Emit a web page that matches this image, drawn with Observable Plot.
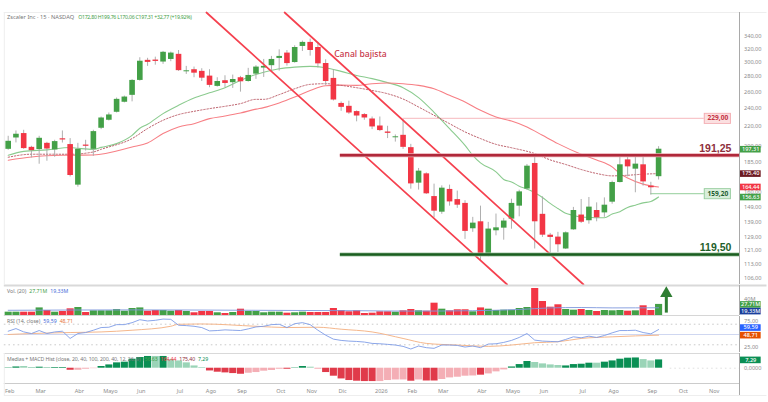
<!DOCTYPE html>
<html lang="es">
<head>
<meta charset="utf-8">
<script src="https://cdn.jsdelivr.net/npm/d3@7"></script>
<script src="https://cdn.jsdelivr.net/npm/@observablehq/plot@0.6"></script>
<style>
html,body{margin:0;padding:0;background:#fff}
#chart{position:relative;width:768px;height:402px;overflow:hidden;background:#fff;font-family:"Noto Sans",sans-serif}
#chart svg{position:absolute;left:0;background:transparent}
.leg{position:absolute;left:7px;font-size:5.2px;line-height:7px;color:#777;white-space:pre}
.leg span{margin-left:3px}
.leg.head{font-size:5.7px}
.leg.head span{font-size:5.2px;letter-spacing:-.25px;margin-left:4px}
.leg.macd{letter-spacing:-.08px}
</style>
</head>
<body>
<div id="chart"></div>
<script>
const open=[197.2,208.3,212.8,199.1,197,203,196.6,207.5,201.8,165.9,201.3,197.2,218.3,226.9,235.8,247.5,255.9,275,303,303.4,300.5,304.3,311.9,286.7,289.6,287.3,280.8,267.2,274.6,272,278.6,273.6,283.5,291.9,295.3,305.8,313.8,299.8,324,330.4,322.4,298.4,277.7,246.1,242.7,236.6,233.2,228.3,220.7,214.4,208.5,211,198.8,167.5,175.2,157,145.6,162.5,154.7,151.9,134.4,139,118.5,133.1,134.8,140.8,149.9,162.8,184.2,144.1,130.3,129.1,121.9,133.7,143.6,139.7,146.8,145.1,152.8,168,187.4,179.2,183,165.1,172.8];
const high=[210,215.5,216.2,200.1,210,204,206,215.5,207.7,203,206,216.2,230.5,235,252.6,255,276,306.8,306,307.7,316.3,315.3,317.7,294.3,293.3,291,289.6,278.6,281.3,282.2,280.4,291.5,295.3,304.3,308.8,318.7,317.7,325.1,332.5,335.7,330.4,303.8,289.6,247.9,248.8,237.4,234.3,230.5,230.5,220.4,211.4,227.5,202,179.8,176,166.7,165.3,165.9,161.2,153.9,142,149.9,138.6,144.3,141.3,155,161.9,183.3,191.6,156.8,131.4,132.1,132.4,149,154.8,156.3,152.3,156,169.1,191.6,190.7,190.7,191.4,168.2,199.76];
const low=[196.3,203.4,197.2,189.2,183.5,186.2,189.8,203.3,172.6,164.3,195.6,190.7,216.9,226.1,235,246.7,248,274,294.3,296,297.2,301,287.3,283.1,278.6,273.6,265.5,266.3,265.5,264.6,259.9,272.7,276.4,279,287.7,287.7,294.7,298.9,316.3,309.2,291.9,268.5,249,236.9,233.5,225.2,226.9,216.9,214.8,207.7,204.2,197.2,162.7,162,158.6,141.7,144.1,149.9,148.3,127.7,132.1,115,117.4,129.9,127.2,134.1,142.4,162,121.9,128.9,119.3,119.9,121.6,133.4,137.9,137.4,139,142,151.3,167.7,172.6,159.9,165.1,158.1,170.06];
const close=[205,212.1,197.9,196,208,197.5,204.7,206.3,173.8,197.2,200.1,214.8,229.4,232.8,251,253.8,275,301.7,300,301.4,315,313.8,288.3,288.1,284.8,278,268.5,273.6,271,276.2,273.2,281.7,293.3,294.3,304.3,308.8,298.3,322.4,330.4,317.7,297.9,273.6,250.2,241.5,235,231.6,229.4,219.7,215.9,213,209.5,199.1,166.9,177.5,159.1,146.3,163.5,153,150.6,132.7,138.1,117.8,134.2,135,139.5,151.9,160.6,181.8,139,130.3,128.9,124.4,131.8,146.8,138.7,149.2,141.7,150.6,168,183,181.2,183.6,168.5,163.8,197.31];

const maGreenX=[0,2,5,8,9,11,12,14,16,17,18,20,22,24,26,28,30,32,33,35,37,39,41,43,45,47,49,51,53,55,57,59,60,61,63,64,65,66,67,68,69,70,71,72,73,74,75,76,77,78,79,80,81,82,83,84];
const maGreenY=[191.6,195.3,196.7,198.9,198.2,197.2,199.1,202.7,211,218.3,222.6,234.3,243.9,252.6,259,265.5,275,283.1,286.2,291,293.3,294.3,292.4,287.3,281.7,277.4,272.1,265.5,253.1,235.8,218,201,191.6,184.7,176.9,170.5,168.5,165.1,162.8,159.9,156.3,151.9,148.2,144.8,143.4,142.2,142,141.7,141.7,144.3,145.9,149,150.6,152.3,153.3,156.63];
const maDotX=[0,3,8,11,12,16,18,20,22,24,26,28,30,32,33,35,37,39,41,43,45,47,49,51,53,55,57,59,61,63,65,68,70,72,74,76,78,80,82,84];
const maDotY=[189.8,192.6,192.6,194.7,197.2,207.7,218,226.9,233.2,236.9,240,242.7,245.9,251,251,256.8,264.2,269.8,270.7,268.5,265.5,262,257.9,251.4,241.9,232.4,223.2,214.5,207.7,202,198.7,193.2,187.4,183.3,178.9,175.5,173.5,174,174.9,175.4];
const maPinkX=[0,3,7,11,16,18,20,22,24,26,28,30,32,33,35,37,39,41,43,45,47,49,51,53,55,57,59,61,63,65,67,69,71,74,76,78,79,80,82,84];
const maPinkY=[187.1,190,191.6,191.9,199.4,203.3,212.8,219.7,223.2,228.7,231.6,235,239.4,241.2,246.7,253.8,262,268.1,268.9,268.5,270.7,271.6,270.7,268.5,264.2,255.9,247.9,238,230.5,226,219.7,211,202.7,192.6,187.4,181.2,175.4,171.8,166.7,164.44];

const channelUpperX=[35.7,74.3], channelUpperY=[381.7,102.7];
const channelLowerX=[25.6,64.44], channelLowerY=[381.7,102.7];
const priceTicks=[340,320,300,280,260,240,220,200,185,160,149,139,129,121,113,106];

const volume=[8.3,8.3,8.3,8.3,19,12.5,8.3,10,16.7,20,7.5,11.7,11.7,11.7,15,10.8,17.5,19,10.8,12.5,12.5,10.8,12.5,10,6.8,10,10,6.8,5,7.5,15.8,10,10,6.8,8.3,8.3,5.8,6.8,8.3,7.5,7.5,7.5,17.5,12.5,9.3,11.7,5,5.8,9.3,9.3,8.3,11.7,15,11.7,10.8,30.8,15.8,11.7,14.3,14.3,9.3,19,15.8,12.5,13.3,13.3,17.5,20,67.5,35,20.8,26.8,15,13.3,15,12.5,10,12.5,11.7,12.5,10.8,11.7,24.3,12.5,27.71];
const volMaX=[0,16,32,45,52,60,66,70,74,78,84];
const volMaY=[13,14,13,12,11,12,15,19,20,19,19.33];

const rsi=[56.4,61.5,55.1,51.9,57.7,51.9,55,56.4,42.3,51.9,53.8,58.3,63.5,64.1,69.2,69.2,73,78.8,76.3,77.6,80,79.5,68,67.3,66,63.5,57,57.7,59,58.3,57.7,60.9,64.7,66,69.2,69.9,63.5,71,73,69.2,58.3,48.7,41,38.5,37.2,36.5,35.3,32.7,32,30.8,29.5,26.9,21.8,27.6,24.4,23.1,29.5,29.5,28.8,25.6,27.6,24.4,31.4,32,34.6,38.5,44.2,51.9,39.1,37.2,36.5,35.9,40.4,45.5,43.6,46.8,44.2,48,53.2,57.7,57.7,58.3,53.8,51.3,59.59];
const rsiMaX=[0,3,8,12,16,21,22,25,32,36,40,43,47,51,54,58,62,65,68,71,74,78,84];
const rsiMaY=[50,51.9,53.8,55,58.3,66,69.9,70.5,66,63.5,64.1,60.3,55,42.3,32.7,29.5,26.9,29.5,34,35.9,42.3,45.5,48.71];

const macd=[.3,1.1,1.5,.3,.9,.3,.6,.6,-1.8,-1.8,-.9,-.4,1.5,2.9,4.7,5.3,7.9,9.4,10.3,10.3,10.3,7.6,6.4,4.7,2,.6,-2.4,-3.5,-4.1,-4.7,-5.3,-4.4,-3.8,-2.6,-2,-.9,-.9,.3,1.5,.9,-.9,-3.8,-7,-9.4,-10.8,-11.4,-11.7,-11.7,-11.7,-10.8,-10.3,-10.3,-11.4,-10.3,-11.2,-11.2,-9.9,-8.5,-7.9,-7,-6.8,-6.1,-5,-3.2,-1.5,1.1,3.2,5.9,5,3.8,2.9,2.4,2,3.2,3.5,4.4,4.4,5.3,6.4,7.9,8.8,9,7.6,6.4,7.29];
const macdStrong=[1,1,0,1,1,1,1,1,1,0,0,0,1,1,1,1,1,1,1,0,1,0,0,0,0,0,1,1,1,1,1,0,0,0,0,0,1,1,1,0,0,1,1,1,1,1,1,1,0,0,0,0,1,0,1,1,0,0,0,0,0,1,0,0,0,1,1,1,0,0,0,0,1,1,1,1,0,1,1,1,1,1,0,0,1];

const monthIdx=[0,4,9,13,17,22,26,30,35,39,43,48,52,56,61,65,69,74,78,83,87,91];
const monthTxt=["Feb","Mar","Abr","Mayo","Jun","Jul","Ago","Sep","Oct","Nov","Dic","2026","Feb","Mar","Abr","Mayo","Jun","Jul","Ago","Sep","Oct","Nov"];

const idx=d3.range(close.length);
const GREEN="#43a047",RED="#f23645",AXIS="#a9a9a9",TXT="#8c8c8c";
const LEFT=-0.994,RIGHT=94.45,TAG1=94.58,TAG2=97.25,TAGC=95.9;
const rows=(xs,ys)=>xs.map((x,i)=>({x,y:ys[i]}));
const comma=(d,n=2)=>d.toFixed(n).replace(".",",");
const base={width:768,marginLeft:0,marginRight:29,marginTop:0,marginBottom:0,
  x:{domain:[LEFT,RIGHT],axis:null},
  style:{fontFamily:'"Noto Sans",sans-serif',fontSize:"5.6px",background:"transparent",overflow:"visible"}};
const vline=()=>Plot.ruleX([RIGHT],{stroke:AXIS,strokeWidth:1});
const tag=(y,label,bg,fg="#fff")=>[
  Plot.ruleY([y],{x1:TAG1,x2:TAG2,stroke:bg,strokeWidth:6.6}),
  Plot.text([y],{x:TAGC,y:d=>d,text:()=>label,fill:fg,fontSize:5.6,fontWeight:500})
];
const box=(y,label,fill,border,color)=>[
  Plot.ruleY([y],{x1:89.9,x2:93.4,stroke:border,strokeWidth:11}),
  Plot.ruleY([y],{x1:90.02,x2:93.28,stroke:fill,strokeWidth:9.4}),
  Plot.text([y],{x:91.65,y:d=>d,text:()=>label,fill:color,fontSize:6.6,fontWeight:700})
];

const price=Plot.plot({...base,height:285,marginTop:12,marginBottom:1,
  y:{type:"log",domain:[102.7,381.7],axis:null},
  marks:[
    Plot.axisY(priceTicks,{anchor:"right",tickSize:0,tickPadding:4.5,tickFormat:d=>comma(d),fill:TXT,label:null}),
    Plot.ruleY([381.7],{x1:-0.5,x2:98,stroke:"#eee",strokeWidth:1}),
    Plot.ruleX([-0.5],{y1:102.7,y2:381.7,stroke:"#eee",strokeWidth:1}),
    vline(),
    Plot.ruleY([229],{x1:51,x2:89.9,stroke:"#f8c6ca",strokeWidth:1.3}),
    Plot.ruleY([159.2],{x1:83,x2:89.9,stroke:"#a9d8ae",strokeWidth:1.2}),
    Plot.line(rows(maGreenX,maGreenY),{x:"x",y:"y",stroke:"#8bcb8f",strokeWidth:1.1,curve:"monotone-x"}),
    Plot.line(rows(maPinkX,maPinkY),{x:"x",y:"y",stroke:"#f77f85",strokeWidth:1.1,curve:"monotone-x"}),
    Plot.line(rows(maDotX,maDotY),{x:"x",y:"y",stroke:"#b5505c",strokeWidth:.9,strokeDasharray:"1.4 1.8",curve:"monotone-x"}),
    Plot.ruleX(idx,{x:i=>i,y1:i=>low[i],y2:i=>high[i],stroke:"#a6a6a6",strokeWidth:.9}),
    Plot.ruleX(idx,{x:i=>i,y1:i=>open[i],y2:i=>close[i],stroke:i=>close[i]>=open[i]?GREEN:RED,strokeWidth:5.6}),
    Plot.line(rows(channelUpperX,channelUpperY),{x:"x",y:"y",stroke:"#f5414f",strokeWidth:1.7}),
    Plot.line(rows(channelLowerX,channelLowerY),{x:"x",y:"y",stroke:"#f5414f",strokeWidth:1.7}),
    Plot.ruleY([191.6],{x1:42.9,x2:RIGHT,stroke:"#e9aab1",strokeWidth:4}),
    Plot.ruleY([191.6],{x1:42.9,x2:RIGHT,stroke:"#b0283a",strokeWidth:2.6}),
    Plot.ruleY([118.7],{x1:42.9,x2:RIGHT,stroke:"#a5c8a7",strokeWidth:4}),
    Plot.ruleY([118.7],{x1:42.9,x2:RIGHT,stroke:"#1b5e20",strokeWidth:2.6}),
    Plot.text(["Canal bajista"],{x:42.1,y:312,text:d=>d,textAnchor:"start",fill:"#c8394c",fontSize:8.6,fontWeight:500}),
    Plot.text(["191,25"],{x:93.4,y:197.5,text:d=>d,textAnchor:"end",fill:"#8e2f3c",fontSize:10.5,fontWeight:700,fontFamily:"Liberation Sans"}),
    Plot.text(["119,50"],{x:93.4,y:122.6,text:d=>d,textAnchor:"end",fill:"#1f5f2b",fontSize:10.5,fontWeight:700,fontFamily:"Liberation Sans"}),
    ...box(229,"229,00","#fbdfe0","#f3a9ae","#c43243"),
    ...box(159.2,"159,20","#d9eedb","#95cc9d","#1d5c2f"),
    ...tag(197.31,"197,31",GREEN),
    ...tag(175.4,"175,40","#6d1a22"),
    ...tag(164.44,"164,44",RED),
    ...tag(156.63,"156,63",GREEN)
  ]});

const vol=Plot.plot({...base,height:31,marginBottom:1,
  y:{domain:[0,75],axis:null},
  marks:[
    Plot.axisY([40],{anchor:"right",tickSize:0,tickPadding:4.5,tickFormat:d=>d+"M",fill:TXT,label:null}),
    Plot.ruleY([75],{x1:-0.5,x2:98,stroke:"#d9d9d9",strokeWidth:2}),
    vline(),
    Plot.ruleX(idx,{x:i=>i,y1:0,y2:i=>volume[i],stroke:i=>close[i]>=open[i]?GREEN:RED,strokeWidth:7.1}),
    Plot.line(rows(volMaX,volMaY),{x:"x",y:"y",stroke:"#7e97dc",strokeWidth:.9,curve:"monotone-x"}),
    Plot.ruleX([85],{y1:6,y2:50,stroke:"#2e7d32",strokeWidth:3}),
    Plot.dot([55],{x:85,y:d=>d,symbol:"triangle",r:4.6,fill:"#2e7d32"}),
    Plot.ruleY([0],{x1:-0.5,x2:RIGHT,stroke:"#ccc",strokeWidth:.8}),
    ...tag(27.71,"27,71M",GREEN),
    ...tag(11,"19,33M","#1a3f9c")
  ]});

const rsiPlot=Plot.plot({...base,height:36,
  y:{domain:[15,85],axis:null},
  marks:[
    Plot.axisY([75,25],{anchor:"right",tickSize:0,tickPadding:4.5,tickFormat:d=>comma(d),fill:TXT,label:null}),
    vline(),
    Plot.ruleY([70,30],{x1:-0.5,x2:RIGHT,stroke:"#c4c4c4",strokeWidth:.9,strokeDasharray:"1.6 3"}),
    Plot.ruleY([50],{x1:-0.5,x2:RIGHT,stroke:"#c9d3ef",strokeWidth:.9}),
    Plot.line(rows(rsiMaX,rsiMaY),{x:"x",y:"y",stroke:"#f5b78c",strokeWidth:1,curve:"monotone-x"}),
    Plot.line(idx,{x:i=>i,y:i=>rsi[i],stroke:"#7e9ce6",strokeWidth:.9}),
    ...tag(63.5,"59,59","#2962ff"),
    ...tag(48.71,"48,71","#e65100")
  ]});

const macdPlot=Plot.plot({...base,height:42,marginBottom:12,
  y:{domain:[-13.4,12.9],axis:null},
  marks:[
    Plot.axisY([0],{anchor:"right",tickSize:0,tickPadding:4.5,tickFormat:d=>comma(d,4),fill:TXT,label:null}),
    Plot.axisX(monthIdx,{anchor:"bottom",tickSize:0,tickPadding:5.5,tickFormat:d=>monthTxt[monthIdx.indexOf(d)],fill:TXT,label:null,dx:1.5}),
    Plot.ruleY([12.9],{x1:-0.5,x2:RIGHT,stroke:"#d9d9d9",strokeWidth:1}),
    Plot.ruleY([-13.4],{x1:-0.5,x2:RIGHT,stroke:"#ccc",strokeWidth:1}),
    Plot.ruleY([-23.9],{x1:-0.5,x2:98,stroke:"#eee",strokeWidth:1}),
    Plot.ruleX([-0.5],{y1:12.9,y2:-23.9,stroke:"#eee",strokeWidth:1}),
    Plot.ruleX([RIGHT],{y1:12.9,y2:-23.9,stroke:AXIS,strokeWidth:1}),
    Plot.ruleY([0],{x1:85.5,x2:RIGHT,stroke:"#ddd",strokeWidth:.9,strokeDasharray:"1.6 3"}),
    Plot.ruleX(idx,{x:i=>i,y1:0,y2:i=>macd[i],strokeWidth:7.1,
      stroke:i=>macd[i]>=0?(macdStrong[i]?"#0a8f54":"#9ad4b7"):(macdStrong[i]?"#e03a4a":"#f4aeb5")}),
    ...tag(7.29,"7,29","#0a8f54")
  ]});

const root=document.getElementById("chart");
const place=(svg,top)=>{svg.style.top=top+"px";root.appendChild(svg);};
place(price,0);place(vol,285);place(rsiPlot,316);place(macdPlot,353);

const legends=[
  [14,"head",'Zscaler Inc · 15 · NASDAQ<span style="color:#43a047">O172,80 H199,76 L170,06 C197,31 +32,77 (+19,92%)</span>'],
  [288,"",'Vol. (20)<span style="color:#43a047">27,71M</span><span style="color:#3f6bd8">19,33M</span>'],
  [318,"",'RSI (14, close)<span style="color:#3f6bd8">59,59</span><span style="color:#e8743b">48,71</span>'],
  [356,"macd",'Medias + MACD Hist (close, 20, 40, 100, 200, 40, 12, 26, 9) <span style="color:#43a047;margin-left:0">156,63</span><span style="color:#f23645">164,44</span><span style="color:#8e2f3c">175,40</span><span style="color:#0a8f54">7,29</span>']
];
for(const [top,cls,html] of legends){
  const d=document.createElement("div");
  d.className="leg "+cls;d.style.top=top+"px";d.innerHTML=html;root.appendChild(d);
}
</script>
</body>
</html>
